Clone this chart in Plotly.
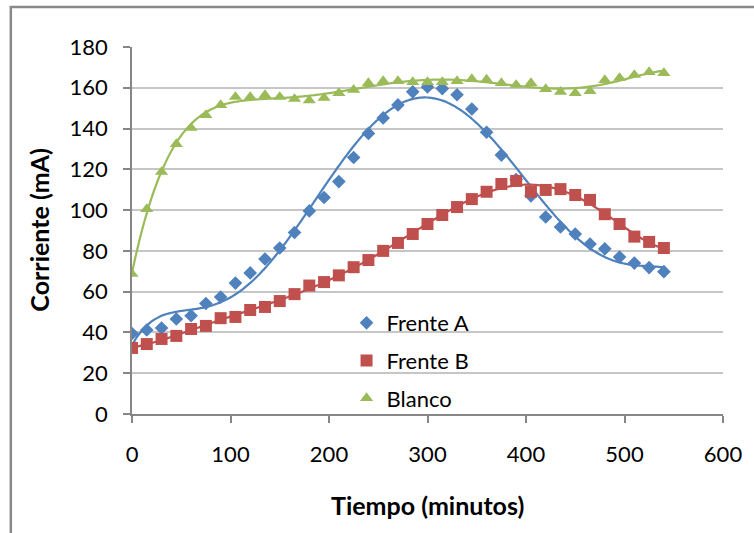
import numpy as np
import plotly.graph_objects as go

# Tiempo de medición (minutos)
tiempo = [0, 15, 30, 45, 60, 75, 90, 105, 120, 135, 150, 165, 180, 195, 210,
          225, 240, 255, 270, 285, 300, 315, 330, 345, 360, 375, 390, 405,
          420, 435, 450, 465, 480, 495, 510, 525, 540]

# Corriente medida (mA)
frente_a = [39.5, 41.2, 42.2, 46.6, 48.2, 54.2, 57.4, 64.2, 69.2, 76.0, 81.4,
            89.0, 99.6, 106.2, 114.0, 125.8, 137.6, 145.2, 151.6, 158.0, 160.4,
            159.6, 156.6, 149.6, 138.2, 127.0, 115.0, 107.0, 96.6, 91.7, 88.3,
            83.4, 81.0, 77.0, 74.0, 71.8, 69.8]
frente_b = [32.4, 34.3, 36.8, 38.3, 41.7, 43.2, 47.0, 47.6, 51.0, 52.5, 55.4,
            58.8, 63.0, 64.7, 68.0, 72.0, 75.5, 80.0, 83.9, 88.3, 93.2, 97.6,
            101.5, 105.4, 109.0, 112.8, 114.3, 109.0, 109.9, 110.3, 107.4,
            105.0, 98.0, 93.2, 87.0, 84.4, 81.4]
blanco = [68.7, 100.5, 118.7, 132.4, 140.3, 146.6, 151.5, 155.5, 155.5, 156.4,
          155.5, 154.5, 153.8, 155.0, 157.4, 159.0, 162.3, 163.3, 163.3, 162.8,
          162.8, 162.8, 163.3, 164.3, 164.0, 162.3, 161.4, 162.3, 159.4, 158.0,
          157.4, 158.4, 163.8, 164.8, 166.3, 167.7, 167.2]

x_ticks = [0, 100, 200, 300, 400, 500, 600]
y_ticks = [0, 20, 40, 60, 80, 100, 120, 140, 160, 180]

series = [
    ("Frente A", frente_a, "#4F81BD", "diamond", 10.5),
    ("Frente B", frente_b, "#C0504D", "square", 12),
    ("Blanco", blanco, "#9BBB59", "triangle-up", 11.5),
]

FONT = "Lato, 'Open Sans', sans-serif"
AXIS = "#868686"

fig = go.Figure()
t = np.array(tiempo, dtype=float)
t_fine = np.linspace(t.min(), t.max(), 300)

# Polynomial (order 6) trend line for each series
for name, vals, color, _, _ in series:
    poly = np.polynomial.Polynomial.fit(t, np.array(vals, dtype=float), 6)
    fig.add_trace(go.Scatter(
        x=t_fine, y=poly(t_fine), mode="lines",
        line=dict(color=color, width=2.2, shape="spline"),
        showlegend=False, hoverinfo="skip",
    ))

for name, vals, color, symbol, size in series:
    fig.add_trace(go.Scatter(
        x=tiempo, y=vals, mode="markers", name=name, legendgroup=name,
        marker=dict(color=color, symbol=symbol, size=size, line=dict(width=0)),
    ))

fig.update_layout(
    width=754, height=533,
    margin=dict(l=132, r=27, t=47, b=119),
    paper_bgcolor="white", plot_bgcolor="white",
    font=dict(family=FONT, size=22, color="black"),
    showlegend=True,
    legend=dict(
        x=(348 - 132) / 595, xanchor="left",
        y=(414 - 302) / 367, yanchor="top",
        bgcolor="rgba(0,0,0,0)", borderwidth=0,
        font=dict(family=FONT, size=22, color="black"),
        traceorder="grouped", tracegroupgap=6,
    ),
    xaxis=dict(
        range=[0, 600], tickvals=x_ticks, ticktext=[str(v) for v in x_ticks],
        showgrid=False, zeroline=False,
        showline=True, linecolor=AXIS, linewidth=1.5,
        ticks="outside", ticklen=7, tickcolor=AXIS, tickwidth=1.5,
        ticklabelstandoff=13,
    ),
    yaxis=dict(
        range=[0, 180], tickvals=y_ticks, ticktext=[str(v) for v in y_ticks],
        showgrid=True, gridcolor="#C6C6C6", gridwidth=1.5, zeroline=False,
        showline=True, linecolor=AXIS, linewidth=1.5,
        ticks="outside", ticklen=7, tickcolor=AXIS, tickwidth=1.5,
        ticklabelstandoff=11,
    ),
    annotations=[
        dict(text="<b>Tiempo (minutos)</b>", xref="paper", yref="paper",
             x=0.5, y=(414 - 505) / 367, xanchor="center", yanchor="middle",
             showarrow=False, font=dict(family=FONT, size=25, color="black")),
        dict(text="<b>Corriente (mA)</b>", xref="paper", yref="paper",
             x=(37.5 - 132) / 595, y=0.5, xanchor="center", yanchor="middle",
             textangle=-90, showarrow=False,
             font=dict(family=FONT, size=25, color="black")),
    ],
    shapes=[
        dict(type="rect", xref="paper", yref="paper", layer="below",
             x0=(10 - 132) / 595, x1=(780 - 132) / 595,
             y0=(414 - 560) / 367, y1=(414 - 7) / 367,
             line=dict(color="#898989", width=2.5), fillcolor="rgba(0,0,0,0)"),
    ],
)

fig.write_html("out.html")
